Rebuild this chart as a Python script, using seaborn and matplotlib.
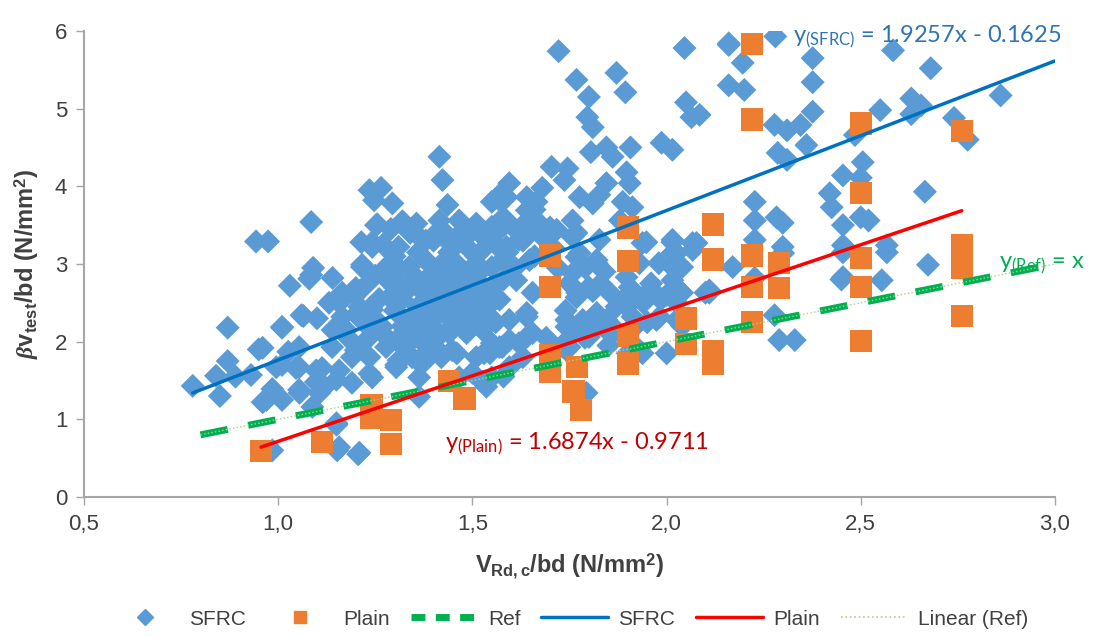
import numpy as np
import pandas as pd
import seaborn as sns
import matplotlib.pyplot as plt
from matplotlib.lines import Line2D

# SFRC test points
sfrc_x = [0.78, 0.84, 0.87, 0.85, 0.87, 0.89, 0.93, 0.95, 0.96, 0.985, 1.01, 1.03, 1.065, 1.08, 1.14,
          1.055, 1.026, 1.01, 1.046, 1.054, 1.088, 1.113, 1.15, 1.152, 1.206, 0.985, 1.097, 1.12, 1.15, 1.165,
          1.216, 1.19, 1.157, 1.175, 1.20, 1.235, 1.235, 1.304, 1.304, 1.268, 1.242,
          0.943, 0.974, 1.085, 1.235, 1.265, 1.247, 1.294, 1.255, 1.214, 1.242, 1.216, 1.09,
          1.415, 1.423, 1.436, 1.252, 1.242, 1.085, 1.20, 1.356, 1.415, 1.466, 1.51, 1.55, 1.57, 1.31, 1.363,
          1.433, 1.485, 1.278, 1.337, 1.397, 1.448, 1.51, 1.55, 1.31, 1.363, 1.415, 1.466, 1.518, 1.165,
          1.06, 1.01, 0.96, 0.995, 1.054, 1.098, 1.054, 0.97, 1.01, 1.106, 1.157, 1.139, 1.19, 1.165, 1.209,
          1.252, 1.227, 1.278, 1.304, 1.242, 1.19, 1.15, 1.157, 1.209, 1.345, 1.363, 1.32, 1.371, 1.415,
          1.448, 1.485, 1.518, 1.466, 1.397, 1.51, 1.466, 1.55, 1.55, 1.536, 1.286, 1.131,
          1.722, 1.768, 1.80, 1.871, 1.894, 2.046, 2.16, 2.16, 2.05, 2.064, 1.796, 1.81, 1.805, 1.845, 1.861,
          1.907, 1.987, 2.015, 1.704, 1.745, 1.737, 1.845, 1.897, 1.905, 1.595, 1.588, 1.64, 1.68, 1.665,
          1.776, 1.827, 1.81, 1.887, 1.912, 1.948, 2.015, 2.067, 2.015, 1.55, 1.57, 1.64, 1.588, 1.665, 1.70,
          1.758, 1.768, 1.88, 1.827, 1.776, 1.82, 1.397, 1.536, 1.588, 1.64,
          1.57, 1.62, 1.577, 1.647, 1.613, 1.655, 1.57, 1.595, 1.64, 1.655, 1.595, 1.64, 1.595, 1.717, 1.758,
          1.768, 1.758, 1.80, 1.768, 1.742, 1.784, 1.82, 1.845, 1.871, 1.853, 1.75, 1.80, 1.82, 1.897, 1.897,
          1.897, 1.905, 1.938, 1.912, 1.938, 2.015, 2.026, 2.015, 2.015, 2.033, 2.026, 1.982, 1.982, 2.026,
          2.077, 2.11, 1.974, 1.784, 1.545, 1.577,
          2.16, 2.28, 2.196, 2.20, 2.376, 2.376, 2.583, 2.68, 2.86, 2.376, 2.278, 2.31, 2.345, 2.36, 2.286,
          2.31, 2.485, 2.55, 2.63, 2.655, 2.63, 2.74, 2.775, 2.505, 2.454, 2.50, 2.42, 2.425, 2.454, 2.52,
          2.665, 2.567, 2.454, 2.454, 2.554, 2.673, 2.227, 2.227, 2.227, 2.283, 2.299, 2.299, 2.17, 2.11,
          2.278, 2.29, 2.33, 2.085, 2.227, 2.30, 2.454, 2.567,
          1.363, 1.31, 1.38, 1.50, 1.526, 1.595, 1.62, 1.57, 1.526, 1.485, 1.44, 1.38, 1.64, 1.742, 1.742,
          1.794, 1.93, 1.95, 1.985, 2.04, 2.10, 1.93, 1.98, 2.067, 1.83, 1.77, 2.04,
          1.26, 1.28, 1.30, 1.30, 1.32, 1.33, 1.34, 1.35, 1.36, 1.36, 1.37, 1.38, 1.38, 1.39, 1.39, 1.40,
          1.40, 1.41, 1.41, 1.42, 1.42, 1.43, 1.43, 1.44, 1.44, 1.45, 1.45, 1.46, 1.46, 1.47, 1.47, 1.48,
          1.48, 1.49, 1.49, 1.50, 1.50, 1.51, 1.51, 1.52, 1.52, 1.54, 1.54, 1.55, 1.56,
          1.58, 1.59, 1.61, 1.63, 1.66, 1.27, 1.31,
          1.33, 1.35, 1.37, 1.34, 1.36, 1.40, 1.42, 1.46, 1.22, 1.24, 1.25, 1.23, 1.20,
          1.18, 1.14, 1.10, 1.27, 1.29, 1.32, 1.38, 1.43, 1.47, 1.52, 1.57, 1.58, 1.61,
          1.64, 1.66, 1.68, 1.71, 1.72, 1.74, 1.75, 1.79, 1.81, 1.84, 1.86, 1.90,
          1.92, 1.94, 1.96, 2.00, 2.04, 1.95, 1.87, 1.85, 1.82, 1.79, 1.76, 1.73, 1.69,
          1.63, 1.58, 1.53, 1.90, 2.00, 2.45, 2.50]
sfrc_y = [1.43, 1.56, 1.75, 1.30, 2.18, 1.55, 1.57, 1.90, 1.22, 1.39, 2.18, 2.72, 2.33, 2.81, 2.82,
          1.34, 1.87, 1.70, 1.66, 1.93, 1.16, 1.66, 0.93, 0.60, 0.55, 0.60, 1.48, 1.42, 1.51, 2.32,
          2.96, 2.63, 2.50, 2.15, 1.89, 1.80, 1.59, 1.70, 2.02, 2.19, 2.41,
          3.29, 3.29, 3.54, 3.95, 3.98, 3.82, 3.78, 3.51, 3.28, 3.28, 2.99, 2.95,
          4.38, 4.08, 3.76, 3.50, 3.22, 2.86, 2.69, 3.52, 3.56, 3.56, 3.52, 3.48, 3.82, 3.22, 3.35,
          3.31, 3.35, 2.96, 2.96, 2.96, 3.01, 3.01, 2.96, 2.75, 2.70, 2.75, 2.70, 2.75, 2.63,
          2.34, 2.19, 1.92, 1.67, 1.67, 1.63, 1.38, 1.25, 1.25, 1.34, 1.63, 1.93, 1.80, 2.15, 2.45,
          2.28, 2.02, 1.93, 1.67, 1.54, 1.47, 0.95, 0.64, 0.57, 1.80, 1.54, 2.54, 2.32, 2.11,
          1.89, 2.11, 2.28, 2.41, 2.50, 1.80, 1.54, 1.98, 1.54, 1.42, 2.57, 2.50,
          5.74, 5.37, 5.15, 5.46, 5.21, 5.78, 5.82, 5.30, 5.08, 4.89, 4.89, 4.76, 4.44, 4.50, 4.38,
          4.50, 4.56, 4.47, 4.25, 4.23, 4.08, 4.04, 4.18, 4.04, 4.04, 3.86, 3.86, 3.98, 3.80,
          3.86, 3.89, 3.78, 3.80, 3.73, 3.28, 3.28, 3.27, 3.14, 3.80, 3.89, 3.69, 3.53, 3.56, 3.47,
          3.56, 3.40, 3.56, 3.31, 3.14, 3.05, 3.35, 3.31, 3.22, 3.40,
          3.44, 3.31, 3.05, 3.05, 2.79, 2.63, 2.54, 2.28, 2.37, 2.11, 2.02, 2.06, 1.67, 3.44, 3.35,
          3.09, 2.88, 2.70, 2.57, 2.28, 2.28, 2.37, 2.28, 2.45, 2.11, 1.93, 2.06, 3.01, 2.83, 2.57,
          2.45, 2.70, 3.27, 2.32, 1.85, 3.31, 3.14, 2.96, 2.79, 2.66, 2.50, 2.57, 2.32, 2.28,
          3.27, 2.63, 2.28, 1.34, 1.85, 1.93,
          5.84, 5.93, 5.59, 5.24, 5.65, 5.34, 5.75, 5.52, 5.17, 4.96, 4.79, 4.72, 4.79, 4.53, 4.43,
          4.34, 4.66, 4.98, 5.13, 5.04, 4.93, 4.88, 4.60, 4.31, 4.14, 4.11, 3.91, 3.73, 3.50, 3.56,
          3.93, 3.24, 3.24, 2.83, 2.79, 2.99, 3.80, 3.56, 3.31, 3.60, 3.53, 3.22, 2.96, 2.66,
          2.34, 2.02, 2.02, 4.92, 2.82, 3.14, 3.15, 3.15,
          1.29, 1.76, 1.76, 1.60, 1.48, 1.67, 1.98, 1.93, 2.15, 2.32, 2.11, 2.06, 2.32, 2.19, 1.89,
          1.34, 1.89, 2.63, 2.54, 2.63, 2.63, 3.01, 3.01, 3.18, 2.75, 2.63, 2.96,
          2.55, 2.80, 2.40, 3.10, 2.20, 2.65, 3.40, 2.85, 2.45, 3.15, 2.00, 2.60, 3.05, 2.25, 2.85, 3.30,
          2.45, 2.70, 2.05, 2.95, 3.45, 2.35, 2.60, 2.85, 3.15, 2.20, 2.50, 2.75, 3.00, 2.40, 3.40, 2.60,
          2.90, 2.15, 3.20, 2.45, 2.75, 2.30, 3.10, 2.60, 2.90, 2.45, 3.25, 2.70, 2.25,
          2.80, 3.15, 2.95, 3.30, 3.10, 2.10, 2.95,
          1.95, 2.15, 2.75, 2.30, 1.75, 1.95, 1.80, 1.85, 2.70, 2.45, 2.85, 2.20, 2.35,
          2.05, 2.15, 2.30, 3.25, 3.45, 3.55, 3.30, 3.05, 3.30, 3.40, 3.20, 3.60, 3.45,
          3.55, 3.70, 3.35, 3.20, 2.95, 2.40, 2.75, 2.95, 2.65, 2.90, 2.60, 2.60,
          2.20, 2.50, 2.75, 2.60, 2.20, 2.25, 2.15, 1.95, 2.20, 2.05, 2.15, 1.95, 2.05,
          1.80, 1.55, 1.85, 1.85, 1.85, 2.80, 3.60]

# plain concrete points
plain_x = [0.956, 1.113, 1.24, 1.24, 1.29, 1.29, 1.44, 1.48, 1.70, 1.70, 1.70, 1.70, 1.77, 1.76, 1.78,
           1.90, 1.90, 1.90, 1.90, 2.05, 2.05, 2.12, 2.12, 2.12, 2.12, 2.22, 2.22, 2.22, 2.22, 2.22,
           2.29, 2.29, 2.50, 2.50, 2.50, 2.50, 2.50, 2.76, 2.76, 2.76, 2.76]
plain_y = [0.59, 0.71, 1.18, 1.02, 0.99, 0.68, 1.49, 1.27, 3.11, 2.70, 1.83, 1.61, 1.67, 1.36, 1.12,
           3.47, 3.04, 2.08, 1.72, 2.30, 1.97, 3.51, 3.06, 1.88, 1.72, 5.83, 4.86, 3.11, 2.70, 2.25,
           3.01, 2.69, 4.81, 3.91, 3.08, 2.70, 2.01, 4.71, 3.24, 2.95, 2.33]

# trend lines (from the equations printed on the chart)
sfrc_slope, sfrc_icpt = 1.9257, -0.1625
plain_slope, plain_icpt = 1.6874, -0.9711
sfrc_range = [0.78, 3.0]
plain_range = [0.956, 2.76]
ref_range = [0.8, 3.0]

c_sfrc = '#5B9BD5'
c_plain = '#ED7D31'
c_ref = '#00B050'
c_sfrc_line = '#0070C0'
c_plain_line = '#FF0000'
c_linref = '#A9D18E'

sns.set_style('white')
plt.rcParams['font.family'] = ['Liberation Sans', 'DejaVu Sans']
plt.rcParams['mathtext.fontset'] = 'custom'
plt.rcParams['mathtext.rm'] = 'Liberation Sans:bold'
plt.rcParams['mathtext.it'] = 'Liberation Serif:italic:bold'
plt.rcParams['mathtext.bf'] = 'Liberation Sans:bold'

fig = plt.figure(figsize=(10.96, 6.37), dpi=100)
ax = fig.add_axes([0.0766, 0.2198, 0.886, 0.7316])

sfrc = pd.DataFrame({'x': sfrc_x, 'y': sfrc_y})
plain = pd.DataFrame({'x': plain_x, 'y': plain_y})
sns.scatterplot(data=sfrc, x='x', y='y', marker='D', s=150, color=c_sfrc, edgecolor='none', ax=ax, zorder=2)
sns.scatterplot(data=plain, x='x', y='y', marker='s', s=260, color=c_plain, edgecolor='none', ax=ax, zorder=3)

rx = np.array(ref_range)
sns.lineplot(x=rx, y=rx, color=c_ref, lw=5, ax=ax, zorder=4).lines[-1].set_dashes([4, 3])
sns.lineplot(x=rx, y=rx, color=c_linref, lw=1, ls=':', ax=ax, zorder=5)
sx = np.array(sfrc_range)
sns.lineplot(x=sx, y=sfrc_slope * sx + sfrc_icpt, color=c_sfrc_line, lw=2.5, ax=ax, zorder=5)
px = np.array(plain_range)
sns.lineplot(x=px, y=plain_slope * px + plain_icpt, color=c_plain_line, lw=2.5, ax=ax, zorder=5)

ax.set_xlim(0.5, 3.0)
ax.set_ylim(0, 6)
ax.set_xticks([0.5, 1.0, 1.5, 2.0, 2.5, 3.0])
ax.set_xticklabels(['0,5', '1,0', '1,5', '2,0', '2,5', '3,0'])
ax.set_yticks(range(7))
ax.tick_params(labelsize=16, colors='#404040', length=6, width=1, direction='out',
               bottom=True, left=True, pad=6)
for s in ['top', 'right']:
    ax.spines[s].set_visible(False)
for s in ['left', 'bottom']:
    ax.spines[s].set_color('#A6A6A6')
    ax.spines[s].set_linewidth(1.5)
ax.tick_params(color='#A6A6A6')

ax.set_xlabel(r'V$_{\mathrm{Rd,c}}$/bd (N/mm$^{\mathrm{2}}$)', fontsize=17, fontweight='bold',
              color='#404040', labelpad=12)
ax.set_ylabel(r'$\mathit{\beta}$v$_{\mathrm{test}}$/bd (N/mm$^{\mathrm{2}}$)', fontsize=17,
              fontweight='bold', color='#404040', labelpad=10)

eq_font = ['Lato', 'DejaVu Sans']
ax.text(2.325, 5.93, r'y$_{\mathregular{(SFRC)}}$ = 1.9257x - 0.1625', color='#2E75B6', fontsize=17,
        family=eq_font, ha='left', va='center', clip_on=False)
ax.text(1.43, 0.68, r'y$_{\mathregular{(Plain)}}$ = 1.6874x - 0.9711', color='#C00000', fontsize=17,
        family=eq_font, ha='left', va='center')
ax.text(2.855, 2.98, r'y$_{\mathregular{(Ref)}}$ = x', color=c_ref, fontsize=17,
        family=eq_font, ha='left', va='center', clip_on=False)

handles = [
    Line2D([], [], marker='D', ls='none', color=c_sfrc, markersize=8),
    Line2D([], [], marker='s', ls='none', color=c_plain, markersize=9),
    Line2D([], [], color=c_ref, lw=5, dashes=[2, 1.5]),
    Line2D([], [], color=c_sfrc_line, lw=2.5),
    Line2D([], [], color=c_plain_line, lw=2.5),
    Line2D([], [], color=c_linref, lw=1.2, ls=':'),
]
labels = ['SFRC', 'Plain', 'Ref', 'SFRC', 'Plain', 'Linear (Ref)']
fig.legend(handles, labels, loc='center', bbox_to_anchor=(0.52, 0.028), ncol=6, frameon=False,
           fontsize=15, handlelength=3.2, columnspacing=1.0, handletextpad=0.5,
           labelcolor='#404040')

fig.savefig('out.png', dpi=100)
